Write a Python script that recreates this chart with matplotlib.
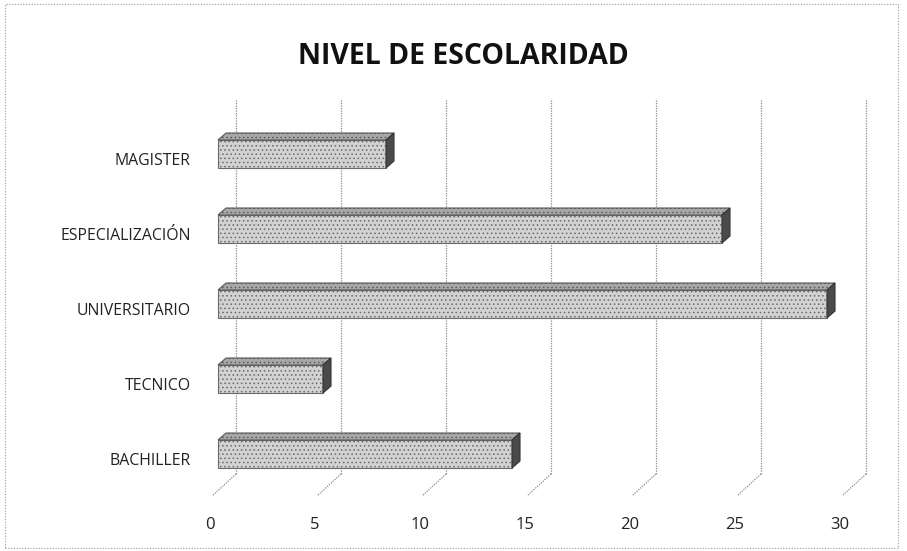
import matplotlib.pyplot as plt
from matplotlib.patches import Polygon, Rectangle

# data
categories = ['BACHILLER', 'TECNICO', 'UNIVERSITARIO', 'ESPECIALIZACIÓN', 'MAGISTER']
values = [14, 5, 29, 24, 8]
ticks = [0, 5, 10, 15, 20, 25, 30]

plt.rcParams['font.family'] = ['Open Sans', 'DejaVu Sans']
plt.rcParams['hatch.linewidth'] = 0.6

W, H = 907, 551
fig = plt.figure(figsize=(W / 100, H / 100), dpi=100)

# axes laid out so that 1 unit = 21 px, one category step = 75 px
px_x, px_y = 21.0, 75.0
x0_px, y0_px = 218.0, 454.0           # value 0 / first category (front face)
ax_l, ax_r, ax_t, ax_b = 150, 880, 90, 540
ax = fig.add_axes([ax_l / W, 1 - ax_b / H, (ax_r - ax_l) / W, (ax_b - ax_t) / H])
ax.set_xlim((ax_l - x0_px) / px_x, (ax_r - x0_px) / px_x)
ax.set_ylim((y0_px - ax_b) / px_y, (y0_px - ax_t) / px_y)
ax.axis('off')

# depth offsets (data units)
floor_dx, floor_dy = 24 / px_x, 22 / px_y
wall_top = (y0_px - 100) / px_y
floor_back = (y0_px - 474) / px_y
grid_shift = 18 / px_x   # back wall relative to bar front face

grid_kw = dict(color='#8a8a8a', lw=0.9, ls=(0, (1, 1)), zorder=1)
for t in ticks:
    xb = t + grid_shift
    ax.plot([xb, xb], [wall_top, floor_back], **grid_kw)
    ax.plot([xb, xb - floor_dx], [floor_back, floor_back - floor_dy], **grid_kw)
    ax.text(t - 8 / px_x, (y0_px - 525) / px_y, str(t), ha='center', va='center',
            fontsize=12, color='#222222')

# 3D bars
bh = 28 / px_y
ddx, ddy = 8 / px_x, 7 / px_y
for i, (cat, v) in enumerate(zip(categories, values)):
    y_lo = i - bh / 2
    y_hi = i + bh / 2
    ax.barh(i, v, height=bh, left=0, color='#d2d2d2', edgecolor='#6a6a6a',
            lw=0.8, hatch='....', zorder=3)
    top = Polygon([(0, y_hi), (v, y_hi), (v + ddx, y_hi + ddy), (ddx, y_hi + ddy)],
                  closed=True, facecolor='#a8a8a8', edgecolor='#5a5a5a', lw=0.8,
                  hatch='....', zorder=3)
    side = Polygon([(v, y_lo), (v + ddx, y_lo + ddy), (v + ddx, y_hi + ddy), (v, y_hi)],
                   closed=True, facecolor='#4a4a4a', edgecolor='#333333', lw=0.8,
                   zorder=3)
    ax.add_patch(top)
    ax.add_patch(side)
    ax.text(-27 / px_x, i - 7 / px_y, cat, ha='right', va='center',
            fontsize=11.4, color='#222222')

fig.text(463 / W, 1 - 57 / H, 'NIVEL DE ESCOLARIDAD', ha='center', va='center',
         fontsize=20.5, fontweight='bold', color='#111111')

# dotted chart border
fig.patches.append(Rectangle((5 / W, 3 / H), 893 / W, 544 / H, transform=fig.transFigure,
                             fill=False, edgecolor='#9a9a9a', lw=0.8, ls=(0, (1, 1.5))))

fig.savefig('out.png', dpi=100)
